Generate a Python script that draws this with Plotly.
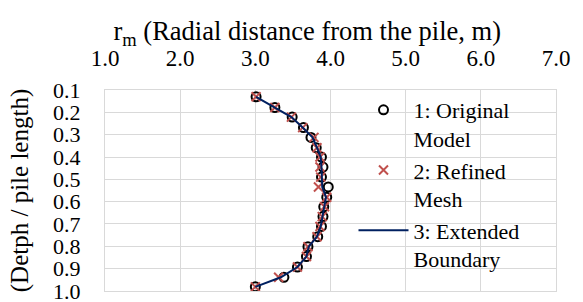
import plotly.graph_objects as go

depth = [0.130, 0.178, 0.221, 0.268, 0.312, 0.358, 0.400, 0.445, 0.490, 0.534,
         0.580, 0.623, 0.667, 0.711, 0.757, 0.802, 0.846, 0.893, 0.939, 0.982]
original = [3.01, 3.26, 3.49, 3.64, 3.74, 3.81, 3.88, 3.90, 3.88, 3.97,
            3.95, 3.91, 3.90, 3.88, 3.83, 3.70, 3.68, 3.56, 3.38, 3.00]
refined = [3.01, 3.26, 3.48, 3.63, 3.78, 3.82, 3.86, 3.86, 3.87, 3.84,
           3.95, 3.92, 3.89, 3.86, 3.82, 3.70, 3.68, 3.56, 3.31, 3.00]
extended = [3.01, 3.26, 3.48, 3.63, 3.76, 3.82, 3.87, 3.88, 3.88, 3.89,
            3.94, 3.92, 3.89, 3.87, 3.82, 3.71, 3.68, 3.56, 3.34, 3.00]
names = ["1: Original<br>Model", "2: Refined<br>Mesh", "3: Extended<br>Boundary"]
x_ticks = [1.0, 2.0, 3.0, 4.0, 5.0, 6.0, 7.0]
y_ticks = [0.1, 0.2, 0.3, 0.4, 0.5, 0.6, 0.7, 0.8, 0.9, 1.0]

FONT = "Liberation Serif, Times New Roman, serif"
GRID = "#d9d9d9"

fig = go.Figure()
fig.add_trace(go.Scatter(x=original, y=depth, mode="markers", name=names[0],
                         marker=dict(symbol="circle-open", size=9, color="black",
                                     line=dict(width=2, color="black"))))
fig.add_trace(go.Scatter(x=refined, y=depth, mode="markers", name=names[1],
                         marker=dict(symbol="x-thin-open", size=9, color="#c0504d",
                                     line=dict(width=2, color="#c0504d"))))
fig.add_trace(go.Scatter(x=extended, y=depth, mode="lines", name=names[2],
                         line=dict(color="#002060", width=2)))

# white legend backdrop hiding gridlines (above grid, below traces)
fig.add_shape(type="rect", xref="paper", yref="paper",
              x0=0.532, x1=1.0, y0=0.124, y1=0.985,
              fillcolor="white", line=dict(width=0), layer="between")

fig.update_layout(
    width=583, height=302,
    margin=dict(l=105, r=27, t=90, b=11, autoexpand=False),
    paper_bgcolor="white", plot_bgcolor="white",
    font=dict(family=FONT, size=23, color="black"),
    title=dict(text="r<sub>m</sub> (Radial distance from the pile, m)",
               font=dict(family=FONT, size=26.5, color="black"),
               x=0.527, xanchor="center", xref="container",
               y=0.898, yanchor="middle", yref="container"),
    showlegend=True,
    legend=dict(x=0.551, y=1.005, xanchor="left", yanchor="top",
                bgcolor="rgba(0,0,0,0)", font=dict(family=FONT, size=22, color="black"),
                valign="top", tracegroupgap=0, itemwidth=50, maxheight=400),
)
fig.update_xaxes(range=[1, 7], tickvals=x_ticks, tickformat=".1f", side="top",
                 showgrid=True, gridcolor=GRID, gridwidth=1,
                 showline=True, linecolor=GRID, linewidth=1, mirror=True,
                 ticks="", zeroline=False, ticklabelstandoff=14,
                 ticklabeloverflow="allow", automargin=False,
                 tickfont=dict(family=FONT, size=23))
fig.update_yaxes(range=[1.0005, 0.0995], tickvals=y_ticks, tickformat=".1f",
                 showgrid=True, gridcolor=GRID, gridwidth=1,
                 showline=True, linecolor=GRID, linewidth=1, mirror=True,
                 ticks="", zeroline=False, ticklabelstandoff=19,
                 ticklabeloverflow="allow", automargin=False,
                 tickfont=dict(family=FONT, size=22),
                 title=dict(text="(Detph / pile length)",
                            font=dict(family=FONT, size=25), standoff=17))

fig.write_html("out.html", config={"displayModeBar": False},
               post_script="document.body.style.margin='0';")
